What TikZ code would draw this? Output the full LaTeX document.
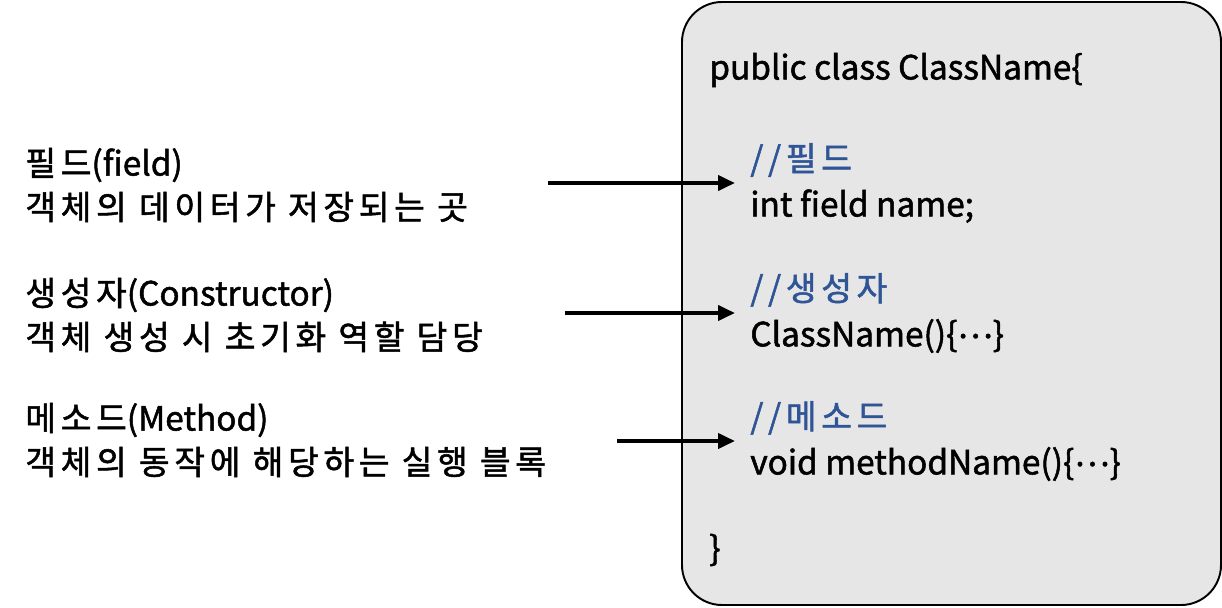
\documentclass[tikz,border=0pt]{standalone}
\usepackage{fontspec}
\setmainfont{Noto Sans CJK KR}[FakeBold=1.5]
\newfontfamily\kr{Noto Sans CJK KR}[FakeBold=1.5, LetterSpace=14]
\usetikzlibrary{arrows.meta}
\definecolor{cmtblue}{RGB}{47,85,151}
\definecolor{boxgray}{RGB}{231,230,230}
\newcommand{\mdots}{\raisebox{0.25em}{…}}
\begin{document}
\begin{tikzpicture}[
lbl/.style={anchor=west, align=left, font=\fontsize{19}{25}\selectfont, inner sep=0pt},
code/.style={anchor=west, align=left, font=\fontsize{19}{26}\selectfont, inner xsep=0.3cm, inner ysep=0pt},
arrow/.style={-{Triangle[length=0.34cm,width=0.3cm]}, line width=2.2pt}
]
\useasboundingbox (0,0) rectangle (24.44,12.14);
% class box
\draw[line width=1.1pt, fill=boxgray, rounded corners=0.8cm] (13.64,0.04) rectangle (24.42,12.1);
\node[code] (head) at (13.88,10.74) {public class ClassName\{};
\node[code] (fld) at (14.7,8.48) {{\kr\color{cmtblue}//필드}\\int field name;};
\node[code] (ctor) at (14.7,5.88) {{\kr\color{cmtblue}//생성자}\\ClassName()\{\mdots\}};
\node[code] (meth) at (14.7,3.32) {{\kr\color{cmtblue}//메소드}\\void methodName()\{\mdots\}};
\node[code] (tail) at (13.88,1.14) {\}};
% descriptions
\node[lbl] (fldl) at (0.5,8.44) {{\kr 필드}(field)\\{\kr 객체의 데이터가 저장되는 곳}};
\node[lbl] (ctorl) at (0.5,5.84) {{\kr 생성자}(Constructor)\\{\kr 객체 생성 시 초기화 역할 담당}};
\node[lbl] (methl) at (0.5,3.34) {{\kr 메소드}(Method)\\{\kr 객체의 동작에 해당하는 실행 블록}};
\coordinate (fa) at (10.96,8.48);
\coordinate (ca) at (11.3,5.88);
\coordinate (ma) at (12.34,3.32);
\draw[arrow] (fa) -- (fld.west);
\draw[arrow] (ca) -- (ctor.west);
\draw[arrow] (ma) -- (meth.west);
\end{tikzpicture}
\end{document}
